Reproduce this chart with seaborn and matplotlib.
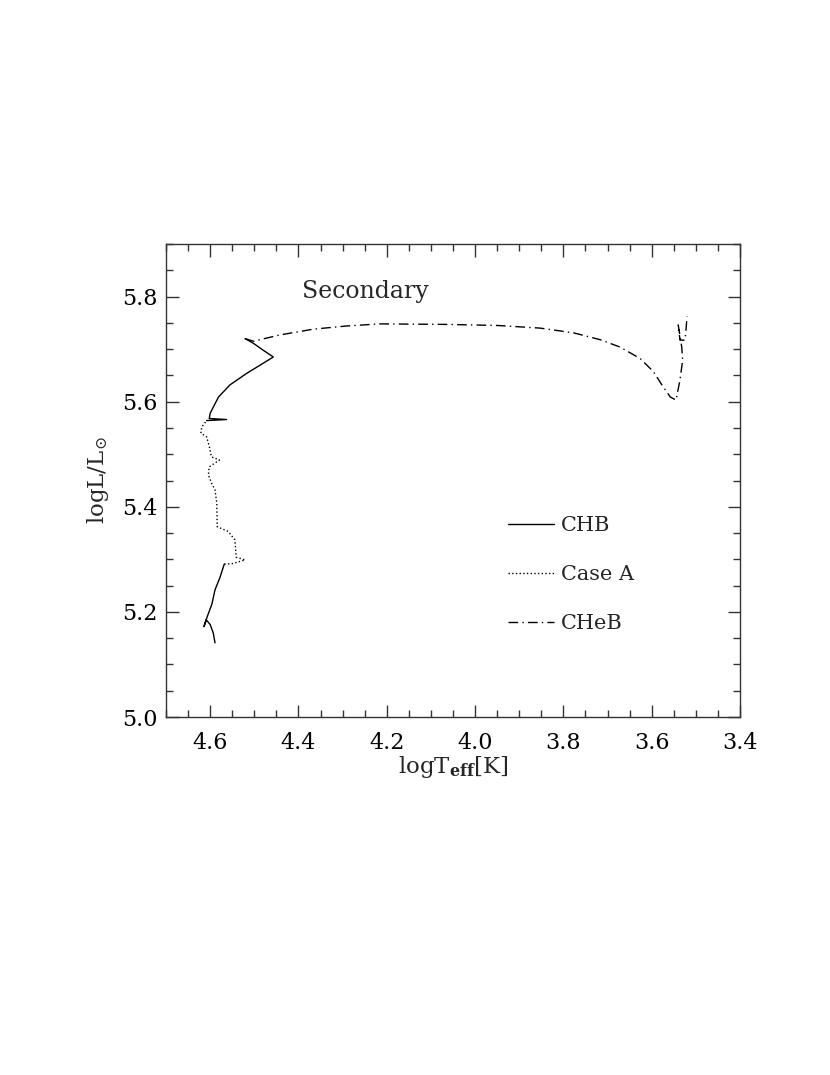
import numpy as np
import pandas as pd
import matplotlib
matplotlib.use("Agg")
import matplotlib.pyplot as plt
import seaborn as sns
from matplotlib.lines import Line2D
from matplotlib.ticker import MultipleLocator

# ---- data (logTeff, logL) ----
chb1_T = [4.589, 4.593, 4.600, 4.609, 4.614, 4.607, 4.596, 4.589, 4.578, 4.568]
chb1_L = [5.141, 5.160, 5.176, 5.185, 5.172, 5.190, 5.215, 5.242, 5.265, 5.291]

caseA_T = [4.568, 4.548, 4.521, 4.541, 4.544, 4.559, 4.584, 4.585, 4.589, 4.597,
           4.604, 4.602, 4.579, 4.597, 4.602, 4.608, 4.621, 4.619, 4.608]
caseA_L = [5.291, 5.292, 5.299, 5.304, 5.337, 5.353, 5.362, 5.407, 5.432, 5.445,
           5.461, 5.476, 5.489, 5.495, 5.515, 5.533, 5.540, 5.552, 5.564]

chb2_T = [4.608, 4.563, 4.602, 4.600, 4.581, 4.555, 4.517, 4.480, 4.457, 4.480,
          4.502, 4.521]
chb2_L = [5.564, 5.566, 5.568, 5.578, 5.609, 5.632, 5.654, 5.673, 5.685, 5.698,
          5.711, 5.720]

cheb_T = [4.521, 4.502, 4.442, 4.366, 4.291, 4.215, 4.064, 3.950, 3.853, 3.777,
          3.717, 3.672, 3.626, 3.596, 3.577, 3.558, 3.545, 3.536, 3.530, 3.532,
          3.540, 3.536, 3.525, 3.523, 3.520]
cheb_L = [5.720, 5.715, 5.727, 5.738, 5.744, 5.748, 5.747, 5.745, 5.740, 5.731,
          5.718, 5.704, 5.682, 5.657, 5.632, 5.609, 5.603, 5.641, 5.679, 5.704,
          5.746, 5.717, 5.717, 5.730, 5.762]

legend_labels = ["CHB", "Case A", "CHeB"]
title_text = "Secondary"

sns.set_style("ticks")
plt.rcParams["font.family"] = ["DejaVu Serif"]
plt.rcParams["mathtext.fontset"] = "dejavuserif"

fig = plt.figure(figsize=(8.3, 10.75), dpi=100)
ax = fig.add_axes([0.2, 1 - 717 / 1075, 0.6916, 473 / 1075])

dashdot = (0, (7, 3, 1, 3))
segs = [
    (chb1_T, chb1_L, "-"),
    (caseA_T, caseA_L, ":"),
    (chb2_T, chb2_L, "-"),
    (cheb_T, cheb_L, dashdot),
]
for t, l, ls in segs:
    df = pd.DataFrame({"logT": t, "logL": l})
    sns.lineplot(data=df, x="logT", y="logL", sort=False, estimator=None,
                 color="black", lw=1.0, linestyle=ls, ax=ax)

ax.set_xlim(4.7, 3.4)
ax.set_ylim(5.0, 5.9)
ax.xaxis.set_major_locator(MultipleLocator(0.2))
ax.xaxis.set_minor_locator(MultipleLocator(0.05))
ax.yaxis.set_major_locator(MultipleLocator(0.2))
ax.yaxis.set_minor_locator(MultipleLocator(0.05))
ax.tick_params(which="both", direction="in", top=True, right=True,
               colors="#333333", labelcolor="black", labelsize=16)
ax.tick_params(which="major", length=9, width=1)
ax.tick_params(which="minor", length=5, width=1)
ax.tick_params(axis="x", which="major", pad=11)
ax.tick_params(axis="y", which="major", pad=6)
for sp in ax.spines.values():
    sp.set_color("#333333")
    sp.set_linewidth(1)

ax.set_xlabel(r"logT$_{\mathbf{eff}}$[K]", fontsize=16.5, labelpad=0)
ax.set_ylabel(r"logL/L$_{\odot}$", fontsize=16.5, labelpad=8)

ax.text(4.249, 5.809, title_text, fontsize=17, ha="center", va="center")

handles = [
    Line2D([], [], color="black", lw=1.0, linestyle="-"),
    Line2D([], [], color="black", lw=1.0, linestyle=":"),
    Line2D([], [], color="black", lw=1.0, linestyle=dashdot),
]
ax.legend(handles, legend_labels, frameon=False, fontsize=15,
          handlelength=2.2, handletextpad=0.35, labelspacing=1.44,
          loc="upper left", bbox_to_anchor=(508 / 830, 1 - 516 / 1075),
          bbox_transform=fig.transFigure, borderaxespad=0, borderpad=0)

fig.savefig("out.png", dpi=100, facecolor="white")
